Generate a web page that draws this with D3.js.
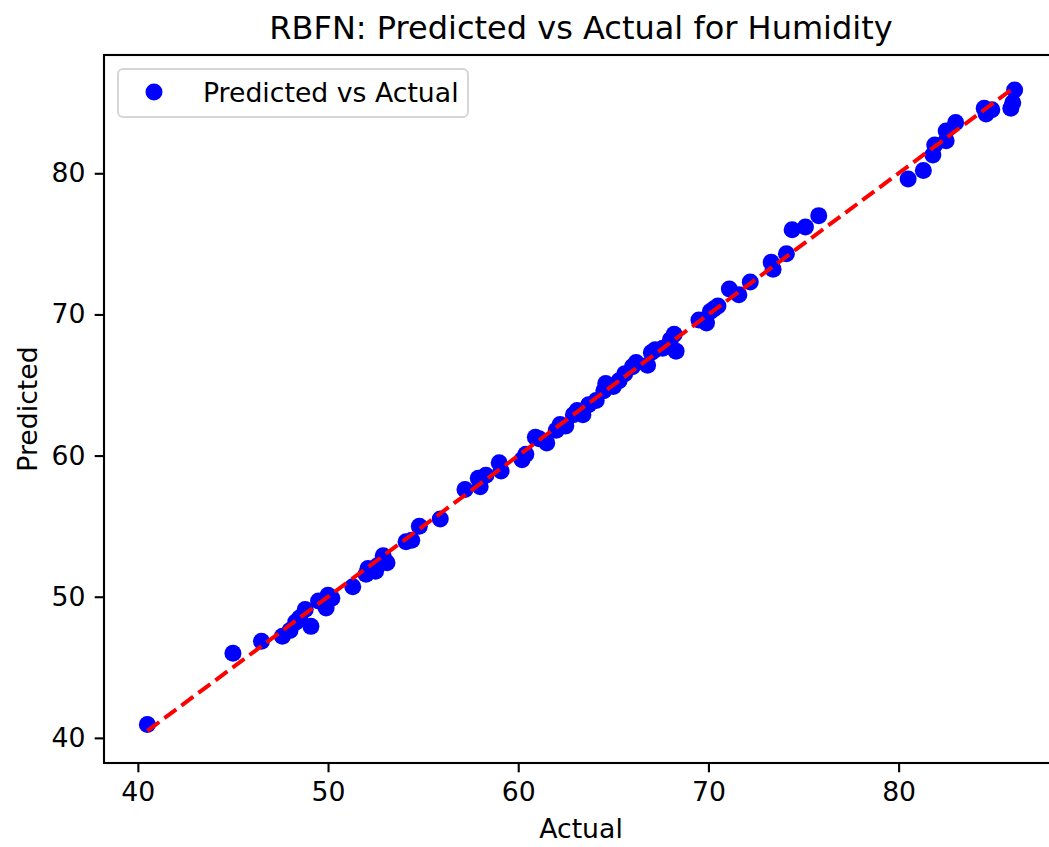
<!DOCTYPE html>
<html>
<head>
<meta charset="utf-8">
<script src="https://cdn.jsdelivr.net/npm/d3@7"></script>
<style>
  body { margin: 0; background: #fff; }
  svg { display: block; font-family: "DejaVu Sans", sans-serif; }
</style>
</head>
<body>
<svg id="chart" width="1049" height="847"></svg>
<script>
// RBFN humidity: predicted vs actual scatter with y = x reference line

// values
const actual = [
  40.5, 45.0, 46.5,
  47.6, 48.0, 48.3, 48.5, 48.8, 49.1, 49.5, 49.9, 50.0, 50.2,
  51.3, 52.0, 52.1, 52.5, 52.6, 52.9, 53.1,
  54.1, 54.4, 54.8, 55.9,
  57.2, 57.9, 58.0, 58.3, 59.0, 59.1,
  60.2, 60.4, 60.9, 61.1, 61.5, 62.0, 62.2, 62.5, 62.9, 63.1,
  63.4, 63.7, 64.1, 64.5, 64.6, 65.0, 65.3, 65.6, 66.0, 66.2,
  66.8, 67.0, 67.2, 67.6, 68.0, 68.2, 68.3,
  69.5, 69.9, 70.1, 70.3, 70.5, 71.1, 71.6, 72.2,
  73.3, 73.4, 74.1, 74.4, 75.1, 75.8,
  80.5, 81.3, 81.8, 81.9, 82.5, 82.5, 83.0,
  84.5, 84.6, 84.9, 85.9, 86.0, 86.1
];
const predicted = [
  40.95, 46.0, 46.85,
  47.2, 47.6, 48.2, 48.5, 49.1, 47.9, 49.7, 49.2, 50.1, 49.9,
  50.7, 51.6, 52.0, 51.8, 52.2, 52.9, 52.4,
  53.9, 54.0, 55.0, 55.5,
  57.6, 58.4, 57.8, 58.6, 59.5, 58.9,
  59.7, 60.1, 61.3, 61.2, 60.9, 61.8, 62.2, 62.1, 62.9, 63.2,
  62.9, 63.6, 63.9, 64.6, 65.1, 64.9, 65.3, 65.8, 66.3, 66.6,
  66.4, 67.3, 67.5, 67.6, 68.2, 68.6, 67.4,
  69.6, 69.4, 70.2, 70.4, 70.6, 71.8, 71.4, 72.3,
  73.7, 73.2, 74.3, 76.0, 76.2, 77.0,
  79.6, 80.2, 81.3, 82.0, 82.3, 83.0, 83.6,
  84.6, 84.2, 84.5, 84.6, 85.0, 85.9
];
const xTicks = [40, 50, 60, 70, 80];
const yTicks = [40, 50, 60, 70, 80];

const points = actual.map((a, i) => ({ a: a, p: predicted[i] }));
const lineData = [d3.min(actual), d3.max(actual)];

const svg = d3.select("#chart");
const margin = { top: 55, left: 104 },
  width = 954,
  height = 708;
const fs = 26.7; // 10pt at this scale

// matplotlib-style 5% padding
function padded(ext) {
  const d = (ext[1] - ext[0]) * 0.05;
  return [ext[0] - d, ext[1] + d];
}
const xDom = padded(d3.extent(actual));
const yDom = padded(d3.extent(predicted.concat(lineData)));

const x = d3.scaleLinear().domain(xDom).range([0, width]);
const y = d3.scaleLinear().domain(yDom).range([height, 0]);

const g = svg.append("g").attr("transform", `translate(${margin.left},${margin.top})`);

// points
g.selectAll("circle.pt")
  .data(points)
  .enter().append("circle")
  .attr("class", "pt")
  .attr("cx", d => x(d.a))
  .attr("cy", d => y(d.p))
  .attr("r", 8.5)
  .attr("fill", "#0000ff");

// y = x line
g.append("path")
  .datum(lineData)
  .attr("fill", "none")
  .attr("stroke", "#ff0000")
  .attr("stroke-width", 4)
  .attr("stroke-dasharray", "14.8,6.4")
  .attr("d", d3.line().x(d => x(d)).y(d => y(d)));

// axes
const xAxis = g.append("g")
  .attr("transform", `translate(0,${height})`)
  .call(d3.axisBottom(x).tickValues(xTicks).tickSize(9.3).tickPadding(9.3).tickSizeOuter(0));
const yAxis = g.append("g")
  .call(d3.axisLeft(y).tickValues(yTicks).tickSize(9.3).tickPadding(9.3).tickSizeOuter(0));
[xAxis, yAxis].forEach(ax => {
  ax.select(".domain").remove();
  ax.selectAll(".tick line").attr("stroke", "#000").attr("stroke-width", 2.1);
  ax.selectAll(".tick text")
    .attr("fill", "#000")
    .style("font-size", fs + "px")
    .style("font-family", "DejaVu Sans");
});

// frame
g.append("rect")
  .attr("x", 0).attr("y", 0)
  .attr("width", width).attr("height", height)
  .attr("fill", "none")
  .attr("stroke", "#000")
  .attr("stroke-width", 2.1);

// title and axis labels
svg.append("text")
  .attr("x", margin.left + width / 2)
  .attr("y", 39)
  .attr("text-anchor", "middle")
  .style("font-size", "32px")
  .attr("fill", "#000")
  .text("RBFN: Predicted vs Actual for Humidity");

svg.append("text")
  .attr("x", margin.left + width / 2)
  .attr("y", 838)
  .attr("text-anchor", "middle")
  .style("font-size", fs + "px")
  .attr("fill", "#000")
  .text("Actual");

svg.append("text")
  .attr("transform", `translate(37,${margin.top + height / 2}) rotate(-90)`)
  .attr("text-anchor", "middle")
  .style("font-size", fs + "px")
  .attr("fill", "#000")
  .text("Predicted");

// legend
const leg = svg.append("g").attr("transform", "translate(118,69)");
leg.append("rect")
  .attr("width", 350).attr("height", 48)
  .attr("rx", 5)
  .attr("fill", "#fff")
  .attr("fill-opacity", 0.8)
  .attr("stroke", "#d6d6d6")
  .attr("stroke-width", 2);
leg.append("circle")
  .attr("cx", 36).attr("cy", 23)
  .attr("r", 8.5)
  .attr("fill", "#0000ff");
leg.append("text")
  .attr("x", 85).attr("y", 23)
  .attr("dy", "0.36em")
  .style("font-size", fs + "px")
  .attr("fill", "#000")
  .text("Predicted vs Actual");
</script>
</body>
</html>
